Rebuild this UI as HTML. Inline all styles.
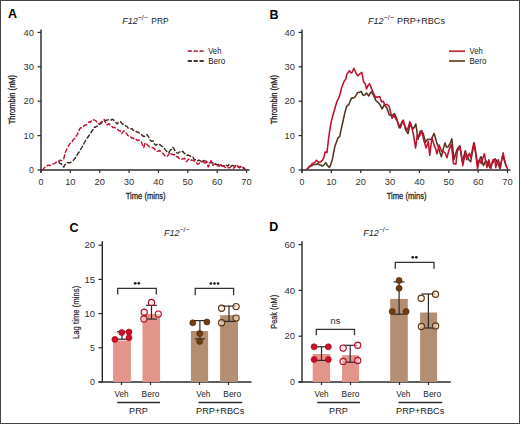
<!DOCTYPE html>
<html><head><meta charset="utf-8"><style>
html,body{margin:0;padding:0;background:#fff;width:520px;height:424px;overflow:hidden;position:relative}
text{font-family:"Liberation Sans", sans-serif}
</style></head><body>
<svg width="520" height="424" viewBox="0 0 520 424" style="position:absolute;left:0;top:0">
<rect x="0" y="0" width="520" height="424" fill="#fff"/>
<line x1="41.00" y1="29.50" x2="41.00" y2="172.50" stroke="#2a2a2a" stroke-width="1.45" />
<line x1="40.25" y1="170.00" x2="249.50" y2="170.00" stroke="#2a2a2a" stroke-width="1.45" />
<line x1="37.50" y1="170.00" x2="41.00" y2="170.00" stroke="#2a2a2a" stroke-width="1.2" />
<text x="34.00" y="173.10" font-size="8.8" text-anchor="end" font-weight="normal" font-style="normal" fill="#333" >0</text>
<line x1="37.50" y1="135.60" x2="41.00" y2="135.60" stroke="#2a2a2a" stroke-width="1.2" />
<text x="34.00" y="138.70" font-size="8.8" text-anchor="end" font-weight="normal" font-style="normal" fill="#333" textLength="10.4" lengthAdjust="spacingAndGlyphs" >10</text>
<line x1="37.50" y1="101.20" x2="41.00" y2="101.20" stroke="#2a2a2a" stroke-width="1.2" />
<text x="34.00" y="104.30" font-size="8.8" text-anchor="end" font-weight="normal" font-style="normal" fill="#333" textLength="10.4" lengthAdjust="spacingAndGlyphs" >20</text>
<line x1="37.50" y1="66.80" x2="41.00" y2="66.80" stroke="#2a2a2a" stroke-width="1.2" />
<text x="34.00" y="69.90" font-size="8.8" text-anchor="end" font-weight="normal" font-style="normal" fill="#333" textLength="10.4" lengthAdjust="spacingAndGlyphs" >30</text>
<line x1="37.50" y1="32.40" x2="41.00" y2="32.40" stroke="#2a2a2a" stroke-width="1.2" />
<text x="34.00" y="35.50" font-size="8.8" text-anchor="end" font-weight="normal" font-style="normal" fill="#333" textLength="10.4" lengthAdjust="spacingAndGlyphs" >40</text>
<line x1="41.00" y1="170.00" x2="41.00" y2="173.00" stroke="#2a2a2a" stroke-width="1.2" />
<text x="41.00" y="185.30" font-size="8.8" text-anchor="middle" font-weight="normal" font-style="normal" fill="#333" >0</text>
<line x1="70.36" y1="170.00" x2="70.36" y2="173.00" stroke="#2a2a2a" stroke-width="1.2" />
<text x="70.36" y="185.30" font-size="8.8" text-anchor="middle" font-weight="normal" font-style="normal" fill="#333" textLength="10.4" lengthAdjust="spacingAndGlyphs" >10</text>
<line x1="99.72" y1="170.00" x2="99.72" y2="173.00" stroke="#2a2a2a" stroke-width="1.2" />
<text x="99.72" y="185.30" font-size="8.8" text-anchor="middle" font-weight="normal" font-style="normal" fill="#333" textLength="10.4" lengthAdjust="spacingAndGlyphs" >20</text>
<line x1="129.08" y1="170.00" x2="129.08" y2="173.00" stroke="#2a2a2a" stroke-width="1.2" />
<text x="129.08" y="185.30" font-size="8.8" text-anchor="middle" font-weight="normal" font-style="normal" fill="#333" textLength="10.4" lengthAdjust="spacingAndGlyphs" >30</text>
<line x1="158.44" y1="170.00" x2="158.44" y2="173.00" stroke="#2a2a2a" stroke-width="1.2" />
<text x="158.44" y="185.30" font-size="8.8" text-anchor="middle" font-weight="normal" font-style="normal" fill="#333" textLength="10.4" lengthAdjust="spacingAndGlyphs" >40</text>
<line x1="187.80" y1="170.00" x2="187.80" y2="173.00" stroke="#2a2a2a" stroke-width="1.2" />
<text x="187.80" y="185.30" font-size="8.8" text-anchor="middle" font-weight="normal" font-style="normal" fill="#333" textLength="10.4" lengthAdjust="spacingAndGlyphs" >50</text>
<line x1="217.16" y1="170.00" x2="217.16" y2="173.00" stroke="#2a2a2a" stroke-width="1.2" />
<text x="217.16" y="185.30" font-size="8.8" text-anchor="middle" font-weight="normal" font-style="normal" fill="#333" textLength="10.4" lengthAdjust="spacingAndGlyphs" >60</text>
<line x1="246.52" y1="170.00" x2="246.52" y2="173.00" stroke="#2a2a2a" stroke-width="1.2" />
<text x="246.52" y="185.30" font-size="8.8" text-anchor="middle" font-weight="normal" font-style="normal" fill="#333" textLength="10.4" lengthAdjust="spacingAndGlyphs" >70</text>
<text x="8.00" y="18.40" font-size="12.5" text-anchor="start" font-weight="bold" font-style="normal" fill="#000" >A</text>
<text x="15.40" y="99.60" font-size="9.6" text-anchor="middle" font-weight="normal" font-style="normal" fill="#222" textLength="49.4" lengthAdjust="spacingAndGlyphs" transform="rotate(-90 15.4 99.6)" stroke="#222" stroke-width="0.3">Thrombin (nM)</text>
<text x="145.60" y="199.20" font-size="9.9" text-anchor="middle" font-weight="normal" font-style="normal" fill="#222" textLength="39.8" lengthAdjust="spacingAndGlyphs" stroke="#222" stroke-width="0.3">Time (mins)</text>
<line x1="302.00" y1="29.50" x2="302.00" y2="172.50" stroke="#2a2a2a" stroke-width="1.45" />
<line x1="301.25" y1="170.00" x2="510.50" y2="170.00" stroke="#2a2a2a" stroke-width="1.45" />
<line x1="298.50" y1="170.00" x2="302.00" y2="170.00" stroke="#2a2a2a" stroke-width="1.2" />
<text x="295.00" y="173.10" font-size="8.8" text-anchor="end" font-weight="normal" font-style="normal" fill="#333" >0</text>
<line x1="298.50" y1="135.60" x2="302.00" y2="135.60" stroke="#2a2a2a" stroke-width="1.2" />
<text x="295.00" y="138.70" font-size="8.8" text-anchor="end" font-weight="normal" font-style="normal" fill="#333" textLength="10.4" lengthAdjust="spacingAndGlyphs" >10</text>
<line x1="298.50" y1="101.20" x2="302.00" y2="101.20" stroke="#2a2a2a" stroke-width="1.2" />
<text x="295.00" y="104.30" font-size="8.8" text-anchor="end" font-weight="normal" font-style="normal" fill="#333" textLength="10.4" lengthAdjust="spacingAndGlyphs" >20</text>
<line x1="298.50" y1="66.80" x2="302.00" y2="66.80" stroke="#2a2a2a" stroke-width="1.2" />
<text x="295.00" y="69.90" font-size="8.8" text-anchor="end" font-weight="normal" font-style="normal" fill="#333" textLength="10.4" lengthAdjust="spacingAndGlyphs" >30</text>
<line x1="298.50" y1="32.40" x2="302.00" y2="32.40" stroke="#2a2a2a" stroke-width="1.2" />
<text x="295.00" y="35.50" font-size="8.8" text-anchor="end" font-weight="normal" font-style="normal" fill="#333" textLength="10.4" lengthAdjust="spacingAndGlyphs" >40</text>
<line x1="302.00" y1="170.00" x2="302.00" y2="173.00" stroke="#2a2a2a" stroke-width="1.2" />
<text x="302.00" y="185.30" font-size="8.8" text-anchor="middle" font-weight="normal" font-style="normal" fill="#333" >0</text>
<line x1="331.36" y1="170.00" x2="331.36" y2="173.00" stroke="#2a2a2a" stroke-width="1.2" />
<text x="331.36" y="185.30" font-size="8.8" text-anchor="middle" font-weight="normal" font-style="normal" fill="#333" textLength="10.4" lengthAdjust="spacingAndGlyphs" >10</text>
<line x1="360.72" y1="170.00" x2="360.72" y2="173.00" stroke="#2a2a2a" stroke-width="1.2" />
<text x="360.72" y="185.30" font-size="8.8" text-anchor="middle" font-weight="normal" font-style="normal" fill="#333" textLength="10.4" lengthAdjust="spacingAndGlyphs" >20</text>
<line x1="390.08" y1="170.00" x2="390.08" y2="173.00" stroke="#2a2a2a" stroke-width="1.2" />
<text x="390.08" y="185.30" font-size="8.8" text-anchor="middle" font-weight="normal" font-style="normal" fill="#333" textLength="10.4" lengthAdjust="spacingAndGlyphs" >30</text>
<line x1="419.44" y1="170.00" x2="419.44" y2="173.00" stroke="#2a2a2a" stroke-width="1.2" />
<text x="419.44" y="185.30" font-size="8.8" text-anchor="middle" font-weight="normal" font-style="normal" fill="#333" textLength="10.4" lengthAdjust="spacingAndGlyphs" >40</text>
<line x1="448.80" y1="170.00" x2="448.80" y2="173.00" stroke="#2a2a2a" stroke-width="1.2" />
<text x="448.80" y="185.30" font-size="8.8" text-anchor="middle" font-weight="normal" font-style="normal" fill="#333" textLength="10.4" lengthAdjust="spacingAndGlyphs" >50</text>
<line x1="478.16" y1="170.00" x2="478.16" y2="173.00" stroke="#2a2a2a" stroke-width="1.2" />
<text x="478.16" y="185.30" font-size="8.8" text-anchor="middle" font-weight="normal" font-style="normal" fill="#333" textLength="10.4" lengthAdjust="spacingAndGlyphs" >60</text>
<line x1="507.52" y1="170.00" x2="507.52" y2="173.00" stroke="#2a2a2a" stroke-width="1.2" />
<text x="507.52" y="185.30" font-size="8.8" text-anchor="middle" font-weight="normal" font-style="normal" fill="#333" textLength="10.4" lengthAdjust="spacingAndGlyphs" >70</text>
<text x="269.50" y="18.80" font-size="12.5" text-anchor="start" font-weight="bold" font-style="normal" fill="#000" >B</text>
<text x="277.20" y="99.60" font-size="9.6" text-anchor="middle" font-weight="normal" font-style="normal" fill="#222" textLength="49.4" lengthAdjust="spacingAndGlyphs" transform="rotate(-90 277.2 99.6)" stroke="#222" stroke-width="0.3">Thrombin (nM)</text>
<text x="406.60" y="199.20" font-size="9.9" text-anchor="middle" font-weight="normal" font-style="normal" fill="#222" textLength="39.8" lengthAdjust="spacingAndGlyphs" stroke="#222" stroke-width="0.3">Time (mins)</text>
<text x="122.20" y="23.80" font-size="9.0" fill="#222"><tspan font-style="italic">F12</tspan><tspan font-size="7.02" dy="-3.6">&#8722;/&#8722;</tspan></text>
<text x="151.30" y="23.80" font-size="9.0" fill="#222" textLength="17.3" lengthAdjust="spacingAndGlyphs">PRP</text>
<text x="368.10" y="23.70" font-size="9.0" fill="#222"><tspan font-style="italic">F12</tspan><tspan font-size="7.02" dy="-3.6">&#8722;/&#8722;</tspan></text>
<text x="397.10" y="23.70" font-size="9.0" fill="#222" textLength="47.9" lengthAdjust="spacingAndGlyphs">PRP+RBCs</text>
<path d="M187.7,51.2 L203.7,51.2" fill="none" stroke="#b83a50" stroke-width="1.8" stroke-linejoin="round" stroke-dasharray="4.2 1.7"/>
<path d="M187.7,61.0 L203.7,61.0" fill="none" stroke="#4a3a2a" stroke-width="1.8" stroke-linejoin="round" stroke-dasharray="4.2 1.7"/>
<text x="208.20" y="54.00" font-size="8.8" text-anchor="start" font-weight="normal" font-style="normal" fill="#222" textLength="13.2" lengthAdjust="spacingAndGlyphs" >Veh</text>
<text x="208.20" y="63.80" font-size="8.8" text-anchor="start" font-weight="normal" font-style="normal" fill="#222" textLength="17" lengthAdjust="spacingAndGlyphs" >Bero</text>
<path d="M449.0,51.2 L465.0,51.2" fill="none" stroke="#c0303f" stroke-width="1.8" stroke-linejoin="round"/>
<path d="M449.0,61.0 L465.0,61.0" fill="none" stroke="#6a4a26" stroke-width="1.8" stroke-linejoin="round"/>
<text x="469.50" y="54.00" font-size="8.8" text-anchor="start" font-weight="normal" font-style="normal" fill="#222" textLength="13.2" lengthAdjust="spacingAndGlyphs" >Veh</text>
<text x="469.50" y="63.80" font-size="8.8" text-anchor="start" font-weight="normal" font-style="normal" fill="#222" textLength="17" lengthAdjust="spacingAndGlyphs" >Bero</text>
<path d="M58.8,161.7 L60.0,163.5 L61.3,163.7 L62.5,166.2 L63.8,167.1 L64.8,164.9 L65.7,164.2 L67.2,162.7 L68.7,162.7 L70.2,162.8 L71.7,161.7 L73.0,160.9 L74.2,159.2 L75.4,157.8 L76.6,155.7 L78.1,153.2 L79.6,151.3 L80.6,149.3 L81.7,147.6 L82.8,145.7 L83.8,143.8 L84.9,141.8 L86.3,139.1 L87.7,137.5 L89.1,135.5 L90.2,133.5 L91.2,132.4 L92.3,130.2 L93.3,129.5 L94.4,127.0 L95.5,127.4 L96.5,126.3 L97.6,125.9 L98.7,125.1 L99.7,124.1 L100.8,123.8 L101.9,122.3 L102.9,121.5 L104.0,121.7 L105.1,121.1 L106.1,120.3 L107.2,120.1 L108.6,119.6 L110.0,119.6 L111.2,120.1 L112.5,119.2 L114.0,120.4 L115.4,121.6 L116.3,122.9 L117.3,124.0 L118.2,122.3 L119.2,121.6 L120.5,121.7 L121.8,123.2 L123.1,124.5 L124.4,124.5 L125.6,125.8 L126.9,126.4 L128.2,128.1 L129.5,128.3 L130.8,128.8 L132.1,128.7 L133.3,130.5 L134.6,130.3 L135.9,131.5 L137.2,132.0 L138.5,132.2 L139.9,134.1 L141.3,134.6 L142.8,136.0 L144.2,136.5 L145.6,136.1 L147.1,134.6 L148.6,137.0 L150.0,139.9 L151.5,141.3 L153.0,140.9 L154.4,143.9 L155.9,145.3 L157.2,144.4 L158.6,145.2 L159.9,144.4 L161.2,145.9 L162.6,146.6 L163.9,147.8 L165.2,149.5 L166.5,151.1 L167.8,152.8 L169.1,152.2 L170.3,150.1 L171.6,149.3 L172.8,147.3 L174.1,148.9 L175.4,151.7 L176.7,152.8 L177.9,153.2 L179.1,152.1 L180.3,152.0 L181.5,152.4 L182.7,151.3 L184.0,153.0 L185.3,153.9 L186.6,155.2 L187.9,155.0 L189.3,155.6 L190.6,156.2 L191.8,157.4 L193.1,157.3 L194.3,159.6 L195.5,159.7 L196.6,159.5 L197.8,160.9 L198.9,160.1 L200.0,160.7 L201.3,161.5 L202.7,160.9 L204.0,160.5 L205.3,161.2 L206.7,161.9 L208.0,162.5 L209.2,162.9 L210.5,162.9 L211.8,162.5 L213.0,163.0 L214.2,162.8 L215.5,163.8 L216.8,164.9 L218.0,164.5 L219.3,165.0 L220.6,164.3 L222.0,166.0 L223.3,166.1 L224.6,166.0 L225.7,166.6 L226.8,165.2 L227.8,166.1 L228.9,164.8 L230.0,165.5 L231.2,166.0 L232.4,165.5 L233.6,165.6 L234.8,167.0 L236.0,166.5 L237.2,166.0 L238.4,166.9 L239.6,167.7 L240.8,166.8 L242.0,167.5 L243.1,167.5 L244.2,169.2 L245.3,169.0" fill="none" stroke="#3e2a1e" stroke-width="1.4" stroke-linejoin="round" stroke-dasharray="5 1.6"/>
<path d="M41.5,170.0 L43.0,169.6 L44.2,167.9 L45.4,167.1 L46.6,166.2 L47.9,165.1 L48.9,165.1 L49.9,165.6 L51.4,165.1 L52.9,164.2 L54.3,163.7 L55.8,162.7 L57.3,161.2 L58.8,161.2 L60.0,160.1 L61.3,160.7 L62.5,160.3 L63.8,158.7 L65.2,152.8 L66.5,149.6 L67.7,147.3 L69.2,144.6 L70.7,142.9 L71.9,142.4 L73.0,140.0 L74.2,138.7 L75.3,137.9 L76.3,135.8 L77.4,134.4 L78.5,132.0 L79.6,129.1 L80.6,127.7 L81.7,127.7 L82.8,127.4 L83.8,125.9 L84.8,125.3 L85.9,125.0 L87.0,124.3 L88.0,123.3 L89.1,121.7 L90.2,122.2 L91.2,121.1 L92.3,120.1 L93.3,119.7 L94.4,120.1 L95.8,120.6 L97.1,122.7 L98.4,123.7 L99.7,123.3 L100.8,122.4 L101.8,121.9 L102.9,120.6 L104.5,119.6 L106.3,124.5 L107.5,124.7 L108.7,123.5 L110.1,125.1 L111.5,126.0 L113.0,127.5 L114.4,127.4 L115.8,128.2 L117.3,129.3 L118.8,130.6 L120.2,130.8 L121.6,133.6 L122.8,132.1 L124.0,130.8 L125.2,132.8 L126.4,133.2 L127.6,135.3 L128.8,136.0 L130.2,136.3 L131.7,138.0 L133.1,138.0 L134.6,139.4 L135.9,139.1 L137.2,140.6 L138.5,139.9 L139.9,140.7 L141.3,141.8 L142.6,144.9 L143.8,147.6 L145.2,142.8 L146.6,143.9 L148.1,145.7 L149.1,146.5 L150.0,147.3 L151.3,147.4 L152.7,147.7 L154.0,148.3 L155.4,150.0 L156.9,151.3 L158.4,151.0 L159.9,150.3 L161.4,152.5 L162.9,153.3 L164.2,154.8 L165.5,156.3 L166.8,156.7 L168.3,155.1 L169.8,152.3 L171.1,154.0 L172.5,154.3 L173.8,154.8 L175.1,154.8 L176.4,156.7 L177.7,156.7 L179.0,158.4 L180.4,159.1 L181.7,159.2 L183.2,158.8 L184.7,158.2 L185.6,160.3 L186.6,161.7 L188.1,159.7 L189.6,158.7 L190.9,160.0 L192.3,160.2 L193.6,160.7 L194.9,161.5 L196.2,162.2 L197.5,164.2 L198.7,164.1 L199.8,162.8 L201.1,162.9 L202.4,161.2 L203.8,162.0 L205.1,164.3 L206.6,161.2 L208.2,167.0 L209.6,164.3 L210.9,160.6 L211.9,162.8 L213.0,165.4 L214.1,164.2 L215.1,164.3 L216.2,164.5 L217.2,165.9 L218.3,165.9 L219.4,166.4 L220.4,164.7 L221.5,165.4 L222.5,166.1 L223.6,165.6 L224.6,167.0 L225.7,167.6 L226.7,167.0 L227.8,167.5 L228.9,167.9 L229.9,167.7 L231.0,166.5 L232.1,167.3 L233.1,168.0 L234.2,168.0 L235.2,165.9 L236.3,165.4 L237.3,165.3 L238.4,167.0 L239.4,167.5 L240.5,166.5 L241.5,166.6 L242.6,167.0 L243.9,167.9 L245.3,169.1" fill="none" stroke="#c0122e" stroke-width="1.4" stroke-linejoin="round" stroke-dasharray="5 1.6"/>
<path d="M306.7,169.6 L308.1,168.0 L309.5,166.7 L310.9,166.2 L312.3,165.3 L314.1,164.2 L315.9,164.4 L317.8,163.8 L319.6,164.7 L320.9,165.2 L322.1,166.0 L323.9,165.1 L325.7,162.6 L327.5,165.5 L329.4,167.4 L330.9,164.1 L332.3,159.8 L333.7,152.2 L335.1,145.7 L336.5,142.0 L337.9,138.1 L339.8,136.2 L341.2,129.2 L342.6,123.0 L344.5,114.4 L346.4,107.0 L347.6,105.2 L348.8,104.8 L350.3,100.8 L351.8,97.8 L353.6,98.0 L355.3,96.6 L357.7,92.4 L359.4,92.4 L361.2,91.3 L362.4,93.9 L363.6,95.4 L365.1,94.7 L366.5,93.0 L368.9,96.0 L370.1,93.4 L371.3,91.9 L373.6,95.4 L376.0,100.7 L377.4,101.8 L378.9,103.2 L380.3,105.3 L382.1,108.9 L384.4,104.7 L385.6,106.4 L386.8,107.7 L389.2,114.8 L390.9,115.4 L392.7,114.9 L394.5,113.6 L396.8,118.9 L399.2,127.8 L401.5,123.0 L403.3,120.1 L405.7,130.1 L408.0,133.7 L410.4,123.0 L411.6,126.6 L412.9,129.0 L414.4,127.1 L415.8,123.9 L418.0,139.2 L420.2,131.2 L421.7,131.6 L423.2,133.4 L425.4,142.2 L427.5,139.2 L429.4,139.4 L431.2,139.2 L432.6,136.6 L434.1,133.4 L435.6,138.5 L437.0,143.6 L438.5,147.4 L439.9,152.4 L441.4,156.8 L443.2,149.1 L445.0,142.9 L446.5,147.3 L447.8,147.1 L449.0,145.3 L450.4,142.8 L451.9,138.9 L453.9,159.7 L455.4,154.8 L456.9,149.8 L458.4,147.4 L459.9,145.8 L461.1,154.5 L462.3,161.7 L463.8,156.4 L465.3,150.8 L466.6,154.9 L467.8,157.7 L469.2,160.3 L470.7,161.7 L472.4,152.3 L474.2,142.9 L475.9,153.1 L477.5,163.7 L479.2,160.4 L481.0,156.7 L483.4,165.6 L484.6,163.0 L485.9,160.7 L487.9,163.5 L489.9,167.6 L491.5,164.3 L493.2,162.2 L494.8,158.7 L496.1,159.9 L497.3,162.7 L498.6,164.8 L499.8,168.6 L501.2,162.4 L502.7,155.7 L504.7,161.3 L506.7,167.6" fill="none" stroke="#50361c" stroke-width="1.55" stroke-linejoin="round"/>
<path d="M306.7,169.6 L307.9,168.3 L309.2,166.6 L310.8,165.5 L312.3,163.5 L313.7,162.9 L315.1,162.1 L316.5,160.2 L317.8,161.7 L319.0,162.3 L320.8,161.7 L322.4,160.3 L323.9,157.4 L325.1,151.9 L327.0,152.5 L328.5,139.1 L330.4,125.8 L331.8,119.3 L333.2,114.5 L335.1,107.8 L337.0,101.3 L338.5,98.5 L340.0,94.2 L341.8,87.1 L344.1,81.2 L345.9,78.9 L346.8,74.2 L348.1,72.7 L349.4,70.6 L350.6,72.5 L351.8,73.0 L353.9,68.3 L355.9,73.0 L357.7,75.9 L359.5,74.2 L361.8,72.4 L363.6,81.8 L365.4,84.2 L366.5,88.9 L368.0,85.6 L369.5,83.6 L371.9,89.5 L373.6,93.6 L375.4,97.2 L376.6,97.1 L377.9,97.1 L379.7,96.5 L381.5,101.8 L383.3,101.2 L385.0,105.3 L386.8,104.2 L389.2,106.5 L390.3,111.2 L392.1,118.3 L393.9,115.4 L396.2,119.5 L397.4,121.4 L398.6,124.2 L400.4,127.8 L402.7,120.7 L403.9,123.7 L405.1,126.6 L407.4,130.1 L408.6,126.1 L409.8,121.9 L411.6,126.6 L413.3,134.0 L415.6,148.0 L417.3,134.9 L419.5,136.3 L421.7,130.5 L423.9,140.7 L426.1,148.0 L428.3,141.4 L429.7,155.3 L431.9,137.8 L434.1,145.1 L435.6,148.6 L437.0,153.9 L439.2,145.1 L441.4,150.9 L443.2,151.3 L445.0,152.8 L447.0,157.7 L449.0,149.8 L451.4,144.4 L453.4,163.7 L454.6,163.6 L455.9,164.2 L457.4,150.8 L458.6,149.5 L459.9,146.8 L461.3,153.8 L462.8,165.6 L464.1,159.2 L465.3,151.8 L466.8,159.7 L468.1,155.9 L469.3,153.3 L470.7,157.7 L472.2,150.8 L473.7,142.9 L475.7,153.8 L477.5,168.6 L479.5,159.7 L481.4,163.7 L482.9,158.1 L484.4,153.8 L485.6,160.9 L486.9,167.6 L488.9,159.7 L490.9,168.6 L492.8,159.7 L494.8,159.7 L495.8,167.6 L497.1,163.0 L498.3,159.7 L500.3,167.6 L501.8,159.3 L503.2,152.8 L504.4,159.4 L505.7,164.7 L507.7,169.1" fill="none" stroke="#c0102e" stroke-width="1.55" stroke-linejoin="round"/>
<line x1="102.30" y1="241.30" x2="102.30" y2="382.00" stroke="#2a2a2a" stroke-width="1.4" />
<line x1="98.50" y1="382.00" x2="251.50" y2="382.00" stroke="#2a2a2a" stroke-width="1.4" />
<line x1="98.50" y1="382.00" x2="102.00" y2="382.00" stroke="#2a2a2a" stroke-width="1.2" />
<text x="95.00" y="385.10" font-size="8.8" text-anchor="end" font-weight="normal" font-style="normal" fill="#333" >0</text>
<line x1="98.50" y1="347.80" x2="102.00" y2="347.80" stroke="#2a2a2a" stroke-width="1.2" />
<text x="95.00" y="350.90" font-size="8.8" text-anchor="end" font-weight="normal" font-style="normal" fill="#333" >5</text>
<line x1="98.50" y1="313.60" x2="102.00" y2="313.60" stroke="#2a2a2a" stroke-width="1.2" />
<text x="95.00" y="316.70" font-size="8.8" text-anchor="end" font-weight="normal" font-style="normal" fill="#333" textLength="10.6" lengthAdjust="spacingAndGlyphs" >10</text>
<line x1="98.50" y1="279.40" x2="102.00" y2="279.40" stroke="#2a2a2a" stroke-width="1.2" />
<text x="95.00" y="282.50" font-size="8.8" text-anchor="end" font-weight="normal" font-style="normal" fill="#333" textLength="10.6" lengthAdjust="spacingAndGlyphs" >15</text>
<line x1="98.50" y1="245.20" x2="102.00" y2="245.20" stroke="#2a2a2a" stroke-width="1.2" />
<text x="95.00" y="248.30" font-size="8.8" text-anchor="end" font-weight="normal" font-style="normal" fill="#333" textLength="10.6" lengthAdjust="spacingAndGlyphs" >20</text>
<text x="69.50" y="232.00" font-size="12.5" text-anchor="start" font-weight="bold" font-style="normal" fill="#000" >C</text>
<text x="78.60" y="312.40" font-size="9.2" text-anchor="middle" font-weight="normal" font-style="normal" fill="#222" textLength="53.2" lengthAdjust="spacingAndGlyphs" transform="rotate(-90 78.6 312.4)" stroke="#222" stroke-width="0.18">Lag time (mins)</text>
<line x1="121.50" y1="382.00" x2="121.50" y2="385.00" stroke="#2a2a2a" stroke-width="1.2" />
<text x="121.50" y="396.90" font-size="8.7" text-anchor="middle" font-weight="normal" font-style="normal" fill="#222" textLength="14.0" lengthAdjust="spacingAndGlyphs" >Veh</text>
<line x1="150.50" y1="382.00" x2="150.50" y2="385.00" stroke="#2a2a2a" stroke-width="1.2" />
<text x="150.50" y="396.90" font-size="8.7" text-anchor="middle" font-weight="normal" font-style="normal" fill="#222" textLength="17.8" lengthAdjust="spacingAndGlyphs" >Bero</text>
<line x1="199.50" y1="382.00" x2="199.50" y2="385.00" stroke="#2a2a2a" stroke-width="1.2" />
<text x="203.20" y="396.90" font-size="8.7" text-anchor="middle" font-weight="normal" font-style="normal" fill="#222" textLength="14.0" lengthAdjust="spacingAndGlyphs" >Veh</text>
<line x1="228.50" y1="382.00" x2="228.50" y2="385.00" stroke="#2a2a2a" stroke-width="1.2" />
<text x="232.20" y="396.90" font-size="8.7" text-anchor="middle" font-weight="normal" font-style="normal" fill="#222" textLength="17.8" lengthAdjust="spacingAndGlyphs" >Bero</text>
<line x1="117.20" y1="402.50" x2="160.00" y2="402.50" stroke="#2a2a2a" stroke-width="1.3" />
<line x1="198.50" y1="402.50" x2="242.20" y2="402.50" stroke="#2a2a2a" stroke-width="1.3" />
<text x="138.50" y="414.40" font-size="9.2" text-anchor="middle" font-weight="normal" font-style="normal" fill="#222" >PRP</text>
<text x="220.20" y="414.40" font-size="9.2" text-anchor="middle" font-weight="normal" font-style="normal" fill="#222" >PRP+RBCs</text>
<text x="163.90" y="235.50" font-size="9.0" fill="#222"><tspan font-style="italic">F12</tspan><tspan font-size="7.02" dy="-3.6">&#8722;/&#8722;</tspan></text>
<rect x="113.1" y="340.5" width="17.8" height="41.5" fill="#e4958b"/>
<line x1="122.00" y1="331.70" x2="122.00" y2="339.20" stroke="#2a2a2a" stroke-width="1.2" />
<line x1="117.00" y1="331.70" x2="127.00" y2="331.70" stroke="#2a2a2a" stroke-width="1.2" />
<line x1="117.00" y1="339.20" x2="127.00" y2="339.20" stroke="#2a2a2a" stroke-width="1.2" />
<circle cx="114.9" cy="339.4" r="3.00" fill="#cc0e2a" stroke="#a80c22" stroke-width="0.7"/>
<circle cx="121.8" cy="332.6" r="3.00" fill="#cc0e2a" stroke="#a80c22" stroke-width="0.7"/>
<circle cx="129.0" cy="332.0" r="3.00" fill="#cc0e2a" stroke="#a80c22" stroke-width="0.7"/>
<circle cx="129.0" cy="337.7" r="3.00" fill="#cc0e2a" stroke="#a80c22" stroke-width="0.7"/>
<rect x="142.5" y="314.0" width="17.6" height="68.0" fill="#e4958b"/>
<line x1="151.50" y1="305.30" x2="151.50" y2="319.10" stroke="#2a2a2a" stroke-width="1.2" />
<line x1="146.10" y1="305.30" x2="156.90" y2="305.30" stroke="#2a2a2a" stroke-width="1.2" />
<line x1="146.10" y1="319.10" x2="156.90" y2="319.10" stroke="#2a2a2a" stroke-width="1.2" />
<circle cx="151.5" cy="302.4" r="3.10" fill="#fbe2e2" fill-opacity="0.55" stroke="#b00e2a" stroke-width="1.15"/>
<circle cx="144.2" cy="312.3" r="3.10" fill="#fbe2e2" fill-opacity="0.55" stroke="#b00e2a" stroke-width="1.15"/>
<circle cx="143.9" cy="318.9" r="3.10" fill="#fbe2e2" fill-opacity="0.55" stroke="#b00e2a" stroke-width="1.15"/>
<circle cx="158.3" cy="314.1" r="3.10" fill="#fbe2e2" fill-opacity="0.55" stroke="#b00e2a" stroke-width="1.15"/>
<rect x="190.9" y="331.0" width="17.2" height="51.0" fill="#b38e72"/>
<line x1="199.90" y1="320.60" x2="199.90" y2="338.90" stroke="#2a2a2a" stroke-width="1.2" />
<line x1="194.75" y1="320.60" x2="205.05" y2="320.60" stroke="#2a2a2a" stroke-width="1.2" />
<line x1="194.75" y1="338.90" x2="205.05" y2="338.90" stroke="#2a2a2a" stroke-width="1.2" />
<circle cx="192.8" cy="322.8" r="3.00" fill="#6e3d12" stroke="#4e2a0a" stroke-width="0.7"/>
<circle cx="206.9" cy="322.0" r="3.00" fill="#6e3d12" stroke="#4e2a0a" stroke-width="0.7"/>
<circle cx="199.7" cy="333.5" r="3.00" fill="#6e3d12" stroke="#4e2a0a" stroke-width="0.7"/>
<circle cx="199.7" cy="341.4" r="3.00" fill="#6e3d12" stroke="#4e2a0a" stroke-width="0.7"/>
<rect x="220.1" y="315.2" width="17.9" height="66.8" fill="#b38e72"/>
<line x1="229.00" y1="306.10" x2="229.00" y2="321.40" stroke="#2a2a2a" stroke-width="1.2" />
<line x1="221.75" y1="306.10" x2="236.25" y2="306.10" stroke="#2a2a2a" stroke-width="1.2" />
<line x1="221.75" y1="321.40" x2="236.25" y2="321.40" stroke="#2a2a2a" stroke-width="1.2" />
<circle cx="221.6" cy="308.2" r="3.10" fill="#f6ead8" fill-opacity="0.55" stroke="#5e3410" stroke-width="1.15"/>
<circle cx="236.1" cy="306.6" r="3.10" fill="#f6ead8" fill-opacity="0.55" stroke="#5e3410" stroke-width="1.15"/>
<circle cx="236.1" cy="318.1" r="3.10" fill="#f6ead8" fill-opacity="0.55" stroke="#5e3410" stroke-width="1.15"/>
<circle cx="221.6" cy="322.7" r="3.10" fill="#f6ead8" fill-opacity="0.55" stroke="#5e3410" stroke-width="1.15"/>
<path d="M117.7,294.5 V288.3 H156.3 V294.5" fill="none" stroke="#333" stroke-width="1.3"/>
<circle cx="135.20" cy="283.30" r="1.35" fill="#1a1a1a"/>
<circle cx="138.80" cy="283.30" r="1.35" fill="#1a1a1a"/>
<path d="M195.2,295.2 V288.3 H233.6 V295.2" fill="none" stroke="#333" stroke-width="1.3"/>
<circle cx="210.90" cy="283.50" r="1.35" fill="#1a1a1a"/>
<circle cx="214.50" cy="283.50" r="1.35" fill="#1a1a1a"/>
<circle cx="218.10" cy="283.50" r="1.35" fill="#1a1a1a"/>
<line x1="302.00" y1="241.30" x2="302.00" y2="382.00" stroke="#2a2a2a" stroke-width="1.4" />
<line x1="298.50" y1="382.00" x2="450.80" y2="382.00" stroke="#2a2a2a" stroke-width="1.4" />
<line x1="298.50" y1="382.00" x2="302.00" y2="382.00" stroke="#2a2a2a" stroke-width="1.2" />
<text x="295.00" y="385.10" font-size="8.8" text-anchor="end" font-weight="normal" font-style="normal" fill="#333" >0</text>
<line x1="298.50" y1="336.20" x2="302.00" y2="336.20" stroke="#2a2a2a" stroke-width="1.2" />
<text x="295.00" y="339.30" font-size="8.8" text-anchor="end" font-weight="normal" font-style="normal" fill="#333" textLength="10.6" lengthAdjust="spacingAndGlyphs" >20</text>
<line x1="298.50" y1="290.40" x2="302.00" y2="290.40" stroke="#2a2a2a" stroke-width="1.2" />
<text x="295.00" y="293.50" font-size="8.8" text-anchor="end" font-weight="normal" font-style="normal" fill="#333" textLength="10.6" lengthAdjust="spacingAndGlyphs" >40</text>
<line x1="298.50" y1="244.60" x2="302.00" y2="244.60" stroke="#2a2a2a" stroke-width="1.2" />
<text x="295.00" y="247.70" font-size="8.8" text-anchor="end" font-weight="normal" font-style="normal" fill="#333" textLength="10.6" lengthAdjust="spacingAndGlyphs" >60</text>
<text x="269.20" y="231.20" font-size="12.5" text-anchor="start" font-weight="bold" font-style="normal" fill="#000" >D</text>
<text x="277.20" y="311.80" font-size="9.2" text-anchor="middle" font-weight="normal" font-style="normal" fill="#222" textLength="33.8" lengthAdjust="spacingAndGlyphs" transform="rotate(-90 277.2 311.8)" stroke="#222" stroke-width="0.18">Peak (nM)</text>
<line x1="321.50" y1="382.00" x2="321.50" y2="385.00" stroke="#2a2a2a" stroke-width="1.2" />
<text x="321.50" y="396.90" font-size="8.7" text-anchor="middle" font-weight="normal" font-style="normal" fill="#222" textLength="14.0" lengthAdjust="spacingAndGlyphs" >Veh</text>
<line x1="350.50" y1="382.00" x2="350.50" y2="385.00" stroke="#2a2a2a" stroke-width="1.2" />
<text x="350.50" y="396.90" font-size="8.7" text-anchor="middle" font-weight="normal" font-style="normal" fill="#222" textLength="17.8" lengthAdjust="spacingAndGlyphs" >Bero</text>
<line x1="399.50" y1="382.00" x2="399.50" y2="385.00" stroke="#2a2a2a" stroke-width="1.2" />
<text x="403.20" y="396.90" font-size="8.7" text-anchor="middle" font-weight="normal" font-style="normal" fill="#222" textLength="14.0" lengthAdjust="spacingAndGlyphs" >Veh</text>
<line x1="428.50" y1="382.00" x2="428.50" y2="385.00" stroke="#2a2a2a" stroke-width="1.2" />
<text x="432.20" y="396.90" font-size="8.7" text-anchor="middle" font-weight="normal" font-style="normal" fill="#222" textLength="17.8" lengthAdjust="spacingAndGlyphs" >Bero</text>
<line x1="317.20" y1="402.50" x2="360.00" y2="402.50" stroke="#2a2a2a" stroke-width="1.3" />
<line x1="398.50" y1="402.50" x2="442.20" y2="402.50" stroke="#2a2a2a" stroke-width="1.3" />
<text x="338.50" y="414.40" font-size="9.2" text-anchor="middle" font-weight="normal" font-style="normal" fill="#222" >PRP</text>
<text x="420.20" y="414.40" font-size="9.2" text-anchor="middle" font-weight="normal" font-style="normal" fill="#222" >PRP+RBCs</text>
<text x="363.20" y="235.50" font-size="9.0" fill="#222"><tspan font-style="italic">F12</tspan><tspan font-size="7.02" dy="-3.6">&#8722;/&#8722;</tspan></text>
<rect x="312.7" y="354.0" width="17.4" height="28.0" fill="#e4958b"/>
<line x1="321.50" y1="346.80" x2="321.50" y2="360.40" stroke="#2a2a2a" stroke-width="1.2" />
<line x1="314.50" y1="346.80" x2="328.50" y2="346.80" stroke="#2a2a2a" stroke-width="1.2" />
<line x1="314.50" y1="360.40" x2="328.50" y2="360.40" stroke="#2a2a2a" stroke-width="1.2" />
<circle cx="314.1" cy="346.8" r="3.00" fill="#cc0e2a" stroke="#a80c22" stroke-width="0.7"/>
<circle cx="328.3" cy="346.8" r="3.00" fill="#cc0e2a" stroke="#a80c22" stroke-width="0.7"/>
<circle cx="314.1" cy="359.5" r="3.00" fill="#cc0e2a" stroke="#a80c22" stroke-width="0.7"/>
<circle cx="328.3" cy="359.5" r="3.00" fill="#cc0e2a" stroke="#a80c22" stroke-width="0.7"/>
<rect x="342.1" y="355.2" width="17.0" height="26.8" fill="#e4958b"/>
<line x1="350.20" y1="345.30" x2="350.20" y2="362.20" stroke="#2a2a2a" stroke-width="1.2" />
<line x1="343.20" y1="345.30" x2="357.20" y2="345.30" stroke="#2a2a2a" stroke-width="1.2" />
<line x1="343.20" y1="362.20" x2="357.20" y2="362.20" stroke="#2a2a2a" stroke-width="1.2" />
<circle cx="343.1" cy="348.1" r="3.10" fill="#fbe2e2" fill-opacity="0.55" stroke="#b00e2a" stroke-width="1.15"/>
<circle cx="357.7" cy="345.3" r="3.10" fill="#fbe2e2" fill-opacity="0.55" stroke="#b00e2a" stroke-width="1.15"/>
<circle cx="343.1" cy="361.4" r="3.10" fill="#fbe2e2" fill-opacity="0.55" stroke="#b00e2a" stroke-width="1.15"/>
<circle cx="357.7" cy="360.4" r="3.10" fill="#fbe2e2" fill-opacity="0.55" stroke="#b00e2a" stroke-width="1.15"/>
<rect x="390.2" y="298.9" width="17.6" height="83.1" fill="#b38e72"/>
<line x1="399.10" y1="281.90" x2="399.10" y2="314.20" stroke="#2a2a2a" stroke-width="1.2" />
<line x1="393.75" y1="281.90" x2="404.45" y2="281.90" stroke="#2a2a2a" stroke-width="1.2" />
<line x1="393.75" y1="314.20" x2="404.45" y2="314.20" stroke="#2a2a2a" stroke-width="1.2" />
<circle cx="399.1" cy="280.5" r="3.00" fill="#6e3d12" stroke="#4e2a0a" stroke-width="0.7"/>
<circle cx="399.1" cy="288.3" r="3.00" fill="#6e3d12" stroke="#4e2a0a" stroke-width="0.7"/>
<circle cx="392.2" cy="311.5" r="3.00" fill="#6e3d12" stroke="#4e2a0a" stroke-width="0.7"/>
<circle cx="406.1" cy="311.5" r="3.00" fill="#6e3d12" stroke="#4e2a0a" stroke-width="0.7"/>
<rect x="420.1" y="312.5" width="17.0" height="69.5" fill="#b38e72"/>
<line x1="428.40" y1="294.00" x2="428.40" y2="328.00" stroke="#2a2a2a" stroke-width="1.2" />
<line x1="421.40" y1="294.00" x2="435.40" y2="294.00" stroke="#2a2a2a" stroke-width="1.2" />
<line x1="421.40" y1="328.00" x2="435.40" y2="328.00" stroke="#2a2a2a" stroke-width="1.2" />
<circle cx="421.2" cy="298.2" r="3.10" fill="#f6ead8" fill-opacity="0.55" stroke="#5e3410" stroke-width="1.15"/>
<circle cx="435.5" cy="294.2" r="3.10" fill="#f6ead8" fill-opacity="0.55" stroke="#5e3410" stroke-width="1.15"/>
<circle cx="421.4" cy="326.5" r="3.10" fill="#f6ead8" fill-opacity="0.55" stroke="#5e3410" stroke-width="1.15"/>
<circle cx="435.6" cy="325.9" r="3.10" fill="#f6ead8" fill-opacity="0.55" stroke="#5e3410" stroke-width="1.15"/>
<path d="M316.3,335.3 V329.3 H354.5 V335.3" fill="none" stroke="#333" stroke-width="1.3"/>
<text x="335.45" y="323.60" font-size="9.2" text-anchor="middle" font-weight="normal" font-style="normal" fill="#222" >ns</text>
<path d="M395.3,268.79999999999995 V262.4 H434 V268.79999999999995" fill="none" stroke="#333" stroke-width="1.3"/>
<circle cx="412.75" cy="257.30" r="1.35" fill="#1a1a1a"/>
<circle cx="416.35" cy="257.30" r="1.35" fill="#1a1a1a"/>
<rect x="0" y="0" width="520" height="1" fill="#444"/>
<rect x="0" y="0" width="1" height="424" fill="#444"/>
<rect x="519" y="0" width="1" height="424" fill="#444"/>
<rect x="0" y="423" width="520" height="1" fill="#444"/>
</svg>
</body></html>
